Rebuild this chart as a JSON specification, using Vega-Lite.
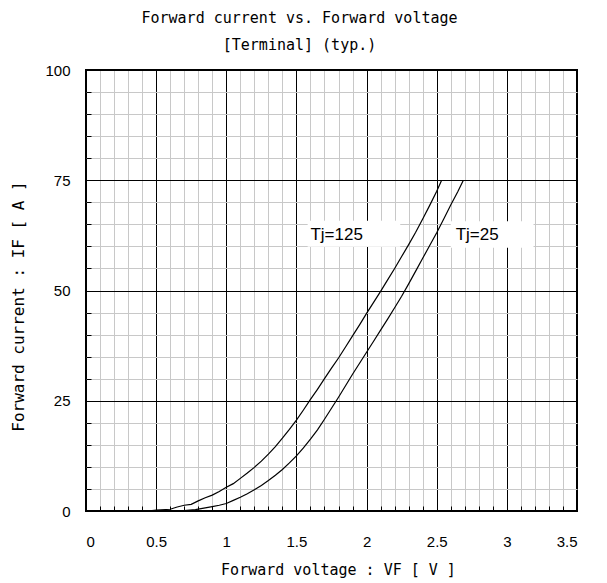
{
  "$schema": "https://vega.github.io/schema/vega-lite/v6.json",
  "width": 491,
  "height": 441,
  "autosize": {"type": "none"},
  "padding": {"left": 86, "top": 70, "right": 30, "bottom": 72},
  "background": "white",
  "title": {
    "text": ["Forward current vs. Forward voltage", "[Terminal] (typ.)"],
    "font": "DejaVu Sans Mono",
    "fontSize": 15,
    "fontWeight": "normal",
    "color": "#000",
    "lineHeight": 27,
    "anchor": "middle",
    "dx": -32,
    "offset": 10
  },
  "config": {
    "view": {"stroke": "#000", "strokeWidth": 2},
    "axis": {"labelFont": "Liberation Sans", "labelFontSize": 15, "labelColor": "#000", "titleColor": "#000"}
  },
  "datasets": {
    "curves": [
      {"s": "Tj=125", "v": 0.44, "i": 0},
      {"s": "Tj=125", "v": 0.5, "i": 0.2},
      {"s": "Tj=125", "v": 0.6, "i": 0.4},
      {"s": "Tj=125", "v": 0.65, "i": 0.9},
      {"s": "Tj=125", "v": 0.7, "i": 1.3},
      {"s": "Tj=125", "v": 0.75, "i": 1.5},
      {"s": "Tj=125", "v": 0.8, "i": 2.3},
      {"s": "Tj=125", "v": 0.85, "i": 3.0},
      {"s": "Tj=125", "v": 0.9, "i": 3.6},
      {"s": "Tj=125", "v": 0.95, "i": 4.4},
      {"s": "Tj=125", "v": 1.0, "i": 5.4},
      {"s": "Tj=125", "v": 1.05, "i": 6.2},
      {"s": "Tj=125", "v": 1.1, "i": 7.4},
      {"s": "Tj=125", "v": 1.15, "i": 8.6},
      {"s": "Tj=125", "v": 1.2, "i": 9.9},
      {"s": "Tj=125", "v": 1.25, "i": 11.3},
      {"s": "Tj=125", "v": 1.3, "i": 12.9},
      {"s": "Tj=125", "v": 1.35, "i": 14.6},
      {"s": "Tj=125", "v": 1.4, "i": 16.5},
      {"s": "Tj=125", "v": 1.45, "i": 18.5},
      {"s": "Tj=125", "v": 1.5, "i": 20.6},
      {"s": "Tj=125", "v": 1.55, "i": 22.9},
      {"s": "Tj=125", "v": 1.6, "i": 25.3},
      {"s": "Tj=125", "v": 1.65, "i": 27.6},
      {"s": "Tj=125", "v": 1.7, "i": 30.0},
      {"s": "Tj=125", "v": 1.75, "i": 32.4},
      {"s": "Tj=125", "v": 1.8, "i": 34.7},
      {"s": "Tj=125", "v": 1.85, "i": 37.2},
      {"s": "Tj=125", "v": 1.9, "i": 39.7},
      {"s": "Tj=125", "v": 1.95, "i": 42.2},
      {"s": "Tj=125", "v": 2.0, "i": 44.8},
      {"s": "Tj=125", "v": 2.05, "i": 47.3},
      {"s": "Tj=125", "v": 2.1, "i": 49.8},
      {"s": "Tj=125", "v": 2.15, "i": 52.4},
      {"s": "Tj=125", "v": 2.2, "i": 55.0},
      {"s": "Tj=125", "v": 2.25, "i": 57.7},
      {"s": "Tj=125", "v": 2.3, "i": 60.4},
      {"s": "Tj=125", "v": 2.35, "i": 63.2},
      {"s": "Tj=125", "v": 2.4, "i": 66.2},
      {"s": "Tj=125", "v": 2.45, "i": 69.3},
      {"s": "Tj=125", "v": 2.5, "i": 72.5},
      {"s": "Tj=125", "v": 2.535, "i": 75},
      {"s": "Tj=25", "v": 0.6, "i": 0},
      {"s": "Tj=25", "v": 0.7, "i": 0.1},
      {"s": "Tj=25", "v": 0.78, "i": 0.3},
      {"s": "Tj=25", "v": 0.85, "i": 0.7},
      {"s": "Tj=25", "v": 0.9, "i": 1.0},
      {"s": "Tj=25", "v": 0.95, "i": 1.3},
      {"s": "Tj=25", "v": 1.0, "i": 1.7},
      {"s": "Tj=25", "v": 1.05, "i": 2.4},
      {"s": "Tj=25", "v": 1.1, "i": 3.1},
      {"s": "Tj=25", "v": 1.15, "i": 3.9},
      {"s": "Tj=25", "v": 1.2, "i": 4.8},
      {"s": "Tj=25", "v": 1.25, "i": 5.8},
      {"s": "Tj=25", "v": 1.3, "i": 6.9},
      {"s": "Tj=25", "v": 1.35, "i": 8.1},
      {"s": "Tj=25", "v": 1.4, "i": 9.4},
      {"s": "Tj=25", "v": 1.45, "i": 10.9},
      {"s": "Tj=25", "v": 1.5, "i": 12.5},
      {"s": "Tj=25", "v": 1.55, "i": 14.3},
      {"s": "Tj=25", "v": 1.6, "i": 16.3},
      {"s": "Tj=25", "v": 1.65, "i": 18.4},
      {"s": "Tj=25", "v": 1.7, "i": 20.8},
      {"s": "Tj=25", "v": 1.75, "i": 23.3},
      {"s": "Tj=25", "v": 1.8, "i": 25.8},
      {"s": "Tj=25", "v": 1.85, "i": 28.4},
      {"s": "Tj=25", "v": 1.9, "i": 31.0},
      {"s": "Tj=25", "v": 1.95, "i": 33.5},
      {"s": "Tj=25", "v": 2.0, "i": 36.0},
      {"s": "Tj=25", "v": 2.05, "i": 38.5},
      {"s": "Tj=25", "v": 2.1, "i": 41.0},
      {"s": "Tj=25", "v": 2.15, "i": 43.5},
      {"s": "Tj=25", "v": 2.2, "i": 46.1},
      {"s": "Tj=25", "v": 2.25, "i": 48.7},
      {"s": "Tj=25", "v": 2.3, "i": 51.5},
      {"s": "Tj=25", "v": 2.35, "i": 54.4},
      {"s": "Tj=25", "v": 2.4, "i": 57.3},
      {"s": "Tj=25", "v": 2.45, "i": 60.2},
      {"s": "Tj=25", "v": 2.5, "i": 63.1},
      {"s": "Tj=25", "v": 2.55, "i": 66.2},
      {"s": "Tj=25", "v": 2.6, "i": 69.4},
      {"s": "Tj=25", "v": 2.65, "i": 72.4},
      {"s": "Tj=25", "v": 2.69, "i": 75}
    ],
    "labels": [
      {"label": "Tj=125", "x1": 1.58, "x2": 2.24, "y1": 59.9, "y2": 65.8, "tx": 1.6, "ty": 62.6},
      {"label": "Tj=25", "x1": 2.6, "x2": 3.19, "y1": 59.7, "y2": 65.7, "tx": 2.635, "ty": 62.6}
    ]
  },
  "resolve": {"axis": {"x": "independent", "y": "independent"}},
  "layer": [
    {
      "data": {"name": "labels"},
      "mark": {"type": "rect", "fill": "white", "stroke": null},
      "encoding": {
        "x": {"field": "x1", "type": "quantitative", "scale": {"domain": [0, 3.5], "nice": false},
          "axis": {"orient": "bottom", "values": [0.1,0.2,0.3,0.4,0.6,0.7,0.8,0.9,1.1,1.2,1.3,1.4,1.6,1.7,1.8,1.9,2.1,2.2,2.3,2.4,2.6,2.7,2.8,2.9,3.1,3.2,3.3,3.4],
            "grid": true, "gridColor": "#c8c8c8", "gridWidth": 1, "gridOpacity": 1, "labels": false, "domain": false, "title": null,
            "ticks": true, "tickSize": -5, "tickColor": "#000", "tickWidth": 1}},
        "x2": {"field": "x2"},
        "y": {"field": "y1", "type": "quantitative", "scale": {"domain": [0, 100], "nice": false},
          "axis": {"orient": "left", "values": [5,10,15,20,30,35,40,45,55,60,65,70,80,85,90,95],
            "grid": true, "gridColor": "#c8c8c8", "gridWidth": 1, "gridOpacity": 1, "labels": false, "domain": false, "title": null,
            "ticks": true, "tickSize": -5, "tickColor": "#000", "tickWidth": 1}},
        "y2": {"field": "y2"}
      }
    },
    {
      "data": {"name": "curves"},
      "mark": {"type": "line", "color": "#000", "strokeWidth": 1.2},
      "encoding": {
        "x": {"field": "v", "type": "quantitative", "scale": {"domain": [0, 3.5], "nice": false},
          "axis": {"orient": "bottom", "values": [0,0.5,1,1.5,2,2.5,3,3.5], "format": "~g",
            "grid": true, "gridColor": "#000", "gridWidth": 1, "gridOpacity": 1, "ticks": false, "domain": false,
            "labelPadding": 23, "labelBaseline": "top",
            "title": "Forward voltage : VF [ V ]", "titleFont": "DejaVu Sans Mono", "titleFontSize": 15, "titleFontWeight": "normal", "titlePadding": 13, "titleX": 252}},
        "y": {"field": "i", "type": "quantitative", "scale": {"domain": [0, 100], "nice": false},
          "axis": {"orient": "left", "values": [0,25,50,75,100],
            "grid": true, "gridColor": "#000", "gridWidth": 1, "gridOpacity": 1, "ticks": false, "domain": false,
            "labelPadding": 16,
            "title": "Forward current : IF [ A ]", "titleFont": "DejaVu Sans Mono", "titleFontSize": 16, "titleFontWeight": "normal", "titlePadding": 18, "titleY": 236}},
        "detail": {"field": "s"}
      }
    },
    {
      "data": {"name": "labels"},
      "mark": {"type": "text", "font": "Liberation Sans", "fontSize": 17, "align": "left", "baseline": "middle", "color": "#000"},
      "encoding": {
        "x": {"field": "tx", "type": "quantitative", "axis": null},
        "y": {"field": "ty", "type": "quantitative", "axis": null},
        "text": {"field": "label"}
      }
    }
  ]
}
